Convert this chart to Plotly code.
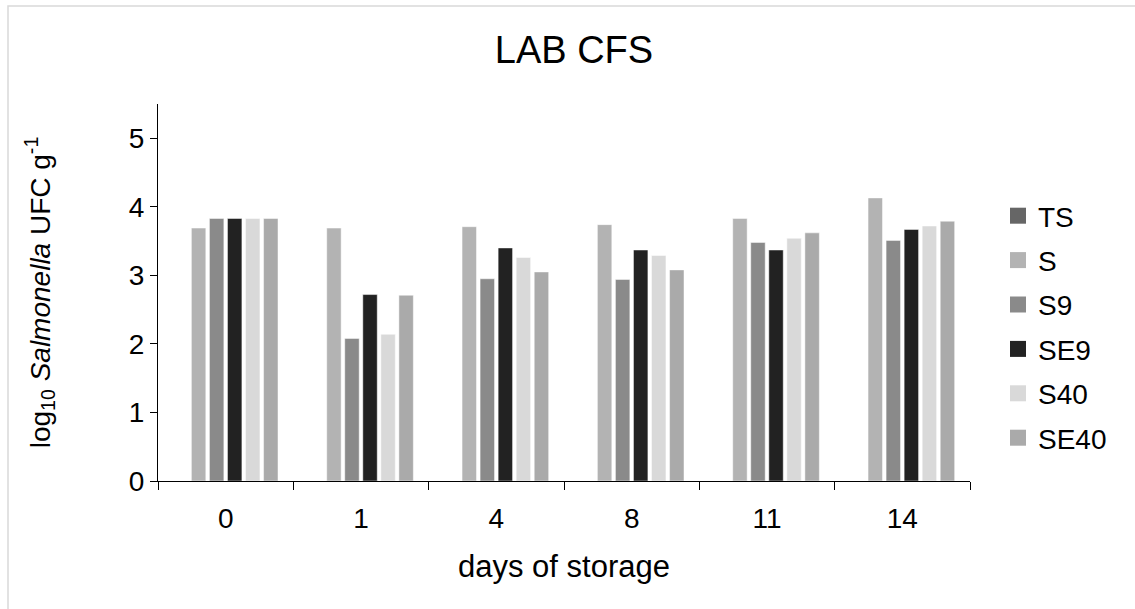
import plotly.graph_objects as go

days = ["0", "1", "4", "8", "11", "14"]
series_names = ["TS", "S", "S9", "SE9", "S40", "SE40"]
TS = [None, None, None, None, None, None]
S = [3.69, 3.69, 3.71, 3.74, 3.83, 4.13]
S9 = [3.83, 2.08, 2.95, 2.94, 3.48, 3.51]
SE9 = [3.83, 2.72, 3.40, 3.37, 3.37, 3.67]
S40 = [3.83, 2.14, 3.26, 3.29, 3.54, 3.72]
SE40 = [3.83, 2.71, 3.05, 3.08, 3.62, 3.79]
values = [TS, S, S9, SE9, S40, SE40]
colors = ["#666666", "#b3b3b3", "#8a8a8a", "#222222", "#d9d9d9", "#aaaaaa"]

FONT = "Liberation Sans, Arial, sans-serif"

fig = go.Figure()
for name, vals, col in zip(series_names, values, colors):
    fig.add_trace(go.Bar(
        x=days, y=vals, name=name, legendgroup=name, showlegend=False,
        marker=dict(color=col, line=dict(color="rgba(255,255,255,0.6)", width=0.8)),
    ))
# legend entries with larger square swatches
for name, col in zip(series_names, colors):
    fig.add_trace(go.Scatter(
        x=[None], y=[None], name=name, legendgroup=name, mode="markers",
        marker=dict(symbol="square", size=16, color=col, line=dict(width=0)),
        hoverinfo="skip",
    ))

fig.update_layout(
    width=1135, height=609,
    margin=dict(l=158, r=165, t=104, b=128),
    paper_bgcolor="white", plot_bgcolor="white",
    barmode="group", bargap=0.2, bargroupgap=0.2,
    font=dict(family=FONT, color="black"),
    title=dict(text="LAB CFS", x=574/1135, xanchor="center", y=1-50/609, yanchor="middle",
               font=dict(size=38, family=FONT, color="black")),
    showlegend=True,
    legend=dict(x=(998-158)/812, y=(481-327)/377, yanchor="middle", xanchor="left",
                font=dict(size=28, family=FONT, color="black"),
                tracegroupgap=5, itemclick=False, bgcolor="rgba(0,0,0,0)"),
    xaxis=dict(
        type="category", showline=True, linecolor="black", linewidth=1,
        ticks="outside", tickson="boundaries", ticklen=8, tickcolor="black",
        ticklabelstandoff=12,
        tickfont=dict(size=28, family=FONT, color="black"),
        title=dict(text="days of storage", font=dict(size=31, family=FONT, color="black"), standoff=22),
        showgrid=False, zeroline=False,
    ),
    yaxis=dict(
        range=[0, 5.5], tickvals=[0, 1, 2, 3, 4, 5], showline=True, linecolor="black", linewidth=1,
        ticks="outside", ticklen=7, tickcolor="black",
        tickfont=dict(size=28, family=FONT, color="black"),
        title=dict(text="log<sub>10</sub> <i>Salmonella</i> UFC g<sup>-1</sup>",
                   font=dict(size=28, family=FONT, color="black"), standoff=70),
        showgrid=False, zeroline=False,
    ),
)

fig.add_shape(type="rect", xref="paper", yref="paper",
              x0=(8-158)/812, x1=1.5, y0=-0.6, y1=(481-6)/377,
              line=dict(color="#d9d9d9", width=1.5), fillcolor="rgba(0,0,0,0)", layer="below")

fig.write_html("out.html")
